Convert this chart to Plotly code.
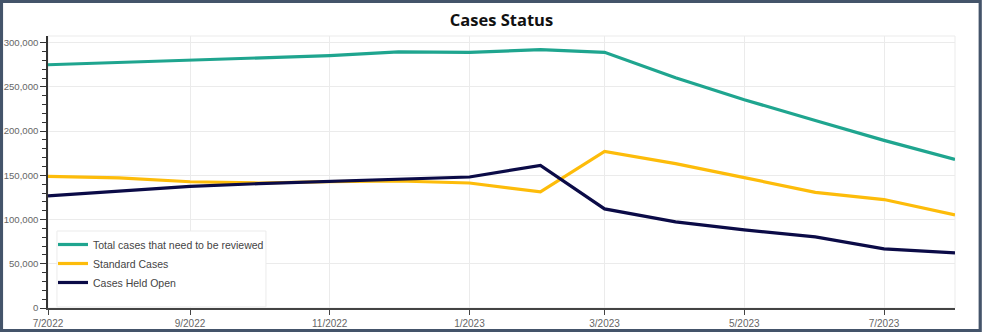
import plotly.graph_objects as go

months = ["2022-07-01", "2022-08-01", "2022-09-01", "2022-10-01", "2022-11-01", "2022-12-01",
          "2023-01-01", "2023-02-01", "2023-03-01", "2023-04-01", "2023-05-01", "2023-06-01",
          "2023-07-01", "2023-08-01"]
total_cases = [275000, 277500, 279700, 282000, 285300, 289500, 289000, 292000, 289000,
               260300, 235400, 212000, 189500, 168000]
standard_cases = [148900, 147000, 142700, 141300, 142900, 143600, 141300, 131200, 177100,
                  163200, 147400, 130800, 122600, 105200]
held_open = [126700, 131900, 137600, 140600, 143200, 145500, 148100, 161300, 112000,
             97300, 88300, 80400, 66900, 62400]

series = [
    ("Total cases that need to be reviewed", total_cases, "#1fa58f"),
    ("Standard Cases", standard_cases, "#fdbc0a"),
    ("Cases Held Open", held_open, "#0b0b47"),
]

fig = go.Figure()
for name, vals, color in series:
    fig.add_trace(go.Scatter(x=months, y=vals, name=name, mode="lines",
                             line=dict(color=color, width=3.2)))

x_tick_font = dict(family="Liberation Sans, Arial, sans-serif", size=10, color="#666666")
y_tick_font = dict(family="Liberation Sans, Arial, sans-serif", size=9.6, color="#666666")

fig.update_layout(
    width=983, height=333,
    margin=dict(l=48, r=28, t=36, b=25, autoexpand=False),
    paper_bgcolor="white", plot_bgcolor="white",
    title=dict(text="<b>Cases Status</b>", x=0.5, xref="paper", xanchor="center",
               y=0.94, yref="container", yanchor="middle",
               font=dict(family="Open Sans, sans-serif", size=16.5, color="#111111")),
    showlegend=True,
    legend=dict(x=0.0055, y=0.2868, xanchor="left", yanchor="top",
                bgcolor="rgba(0,0,0,0)", borderwidth=0,
                font=dict(family="Liberation Sans, Arial, sans-serif", size=10.5, color="#444444"),
                tracegroupgap=0, itemwidth=30),
    xaxis=dict(type="date", range=["2022-07-01", "2023-08-01"],
               tick0="2022-07-01", dtick="M2", tickformat="%-m/%Y",
               showgrid=True, gridcolor="#ebebeb", gridwidth=1,
               showline=True, linecolor="#444444", linewidth=1.5,
               ticks="outside", ticklen=5, tickcolor="#444444",
               tickfont=x_tick_font, zeroline=False, automargin=False),
    yaxis=dict(range=[0, 307500], dtick=50000, tick0=0, tickformat=",d",
               showgrid=True, gridcolor="#ebebeb", gridwidth=1,
               showline=True, linecolor="#333333", linewidth=1.5,
               ticks="outside", ticklen=6, tickcolor="#333333",
               tickfont=y_tick_font, zeroline=False, automargin=False,
               minor=dict(dtick=10000, ticks="outside", ticklen=4, tickcolor="#333333",
                          showgrid=False)),
    shapes=[
        dict(type="rect", xref="paper", yref="paper", x0=0, x1=1, y0=0, y1=1,
             line=dict(color="#ebebeb", width=1), layer="below"),
        dict(type="rect", xref="paper", yref="paper",
             x0=0.0099, x1=0.2403, y0=0.004, y1=0.283,
             fillcolor="white", line=dict(color="#ebebeb", width=1), layer="above"),
        dict(type="rect", xref="paper", yref="paper",
             x0=-0.0513, x1=1.0278, y0=-0.0827, y1=1.1268,
             line=dict(color="#44546a", width=3.2), layer="above"),
    ],
)

fig.write_html("out.html")
